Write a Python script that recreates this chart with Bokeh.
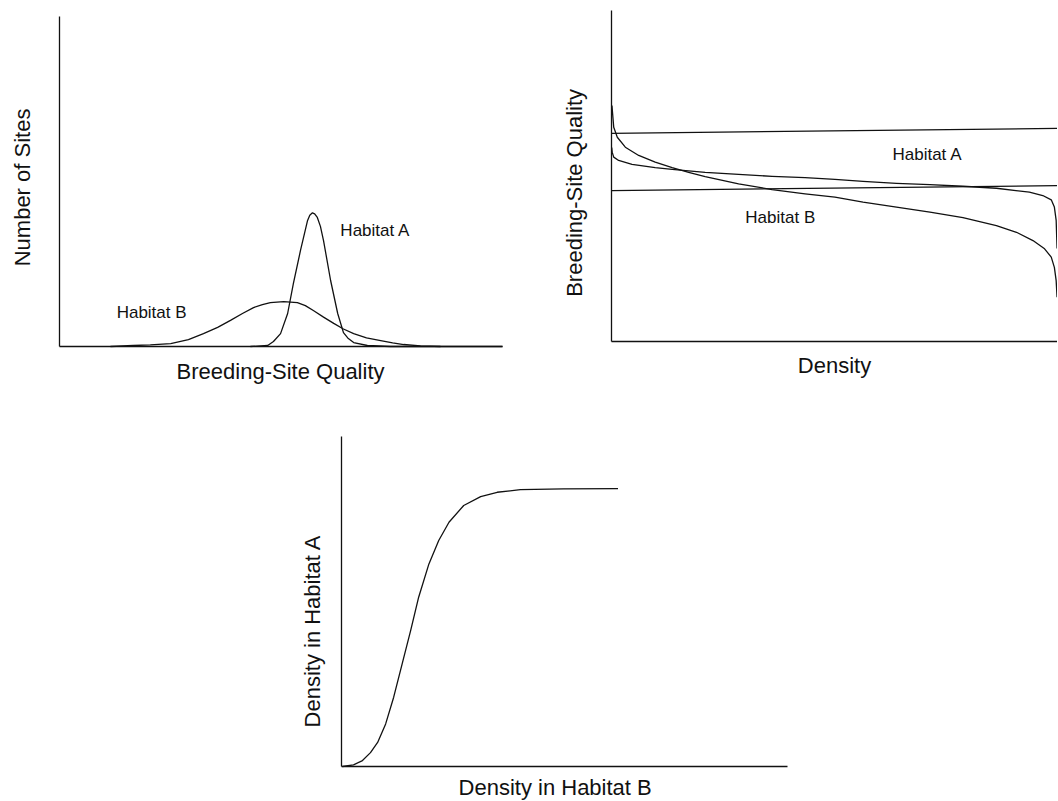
import math
from bokeh.plotting import figure
from bokeh.layouts import column, row
from bokeh.models import Range1d, Label, FixedTicker, Spacer
from bokeh.embed import file_html
from bokeh.resources import INLINE

# ---------------- data ----------------
# Panel 1: number of sites vs breeding-site quality (arbitrary 0-100 units)
hab_a_quality = [43.1, 47.0, 48.3, 49.9, 51.5, 52.8, 54.4, 56.0, 56.5, 57.1, 57.6, 58.2, 58.9,
                 59.6, 61.2, 62.8, 64.1, 65.2, 66.4, 69.5, 74.7, 100.0]
hab_a_sites = [0.0, 0.3, 1.5, 3.9, 10.0, 19.1, 29.1, 38.2, 39.8, 40.5, 40.2, 39.1, 36.4,
               32.1, 20.0, 10.0, 4.2, 2.4, 1.2, 0.3, 0.0, 0.0]
hab_b_quality = [11.5, 16.7, 20.5, 25.1, 29.1, 32.5, 35.7, 38.6, 41.3, 43.8, 45.8, 47.6, 50.6,
                 53.7, 55.5, 57.3, 59.6, 61.9, 64.1, 66.4, 69.3, 72.5, 75.2, 77.7, 81.5, 86.0]
hab_b_sites = [0.0, 0.3, 0.5, 0.9, 2.1, 3.9, 5.8, 7.9, 10.0, 11.8, 12.7, 13.3, 13.6,
               13.3, 12.4, 10.9, 8.9, 7.0, 5.3, 3.9, 2.6, 1.8, 1.1, 0.6, 0.2, 0.0]

# Panel 2: breeding-site quality vs density
upper_line_x = [0.0, 100.0]
upper_line_q = [62.9, 64.4]
lower_line_x = [0.0, 100.0]
lower_line_q = [45.6, 47.1]
curve1_density = [0.1, 0.5, 1.3, 3.1, 6.1, 9.8, 13.6, 17.3, 21.0, 28.5, 36.0, 43.4, 50.1,
                  56.4, 63.9, 71.4, 78.8, 86.3, 90.8, 94.5, 97.1, 98.6, 99.3, 99.7, 99.9]
curve1_quality = [71.3, 64.7, 61.7, 58.7, 56.2, 54.2, 52.5, 51.1, 49.8, 47.6, 45.9, 44.6, 43.6,
                  42.1, 40.6, 39.1, 37.4, 35.0, 33.0, 30.5, 28.0, 25.5, 22.4, 18.4, 13.4]
curve2_density = [0.05, 0.15, 0.5, 1.6, 4.6, 9.8, 13.6, 21.0, 28.5, 36.0, 43.4, 50.1, 56.4,
                  63.9, 71.4, 78.8, 86.3, 93.7, 96.7, 98.6, 99.3, 99.7, 99.9]
curve2_quality = [58.6, 57.2, 55.7, 54.7, 53.5, 52.5, 52.0, 51.1, 50.5, 49.9, 49.5, 49.0, 48.4,
                  47.8, 47.4, 46.9, 46.3, 45.1, 44.1, 42.8, 40.6, 36.6, 28.1]

# Panel 3: density in habitat A vs density in habitat B
dens_b = [0.2, 2.7, 4.7, 6.5, 8.1, 9.9, 11.7, 13.6, 15.5, 17.3, 19.6, 21.8, 24.1, 27.4,
          31.2, 34.9, 40.1, 49.8, 62.0]
dens_a = [0.0, 0.5, 1.8, 4.2, 7.3, 12.9, 21.0, 31.1, 41.2, 51.3, 61.4, 68.5, 74.0, 79.1,
          81.8, 83.1, 83.9, 84.1, 84.2]

FONT = "Liberation Sans"
INK = "#111111"
LW = 1.3


def make_fig(width, height, x0, x100, y0, y100):
    """Figure whose frame fills the canvas; data 0..100 lands on the given pixels."""
    sx = (x100 - x0) / 100.0
    sy = (y0 - y100) / 100.0
    xr = Range1d(-x0 / sx, (width - x0) / sx)
    yr = Range1d(-(height - y0) / sy, y0 / sy)
    p = figure(width=width, height=height, x_range=xr, y_range=yr,
               toolbar_location=None, output_backend="svg",
               min_border_left=0, min_border_right=0, min_border_top=0, min_border_bottom=0)
    p.outline_line_color = None
    p.grid.visible = False
    p.background_fill_color = "white"
    p.border_fill_color = "white"
    for ax in (p.xaxis, p.yaxis):
        ax.ticker = FixedTicker(ticks=[])
        ax.major_tick_out = 0
        ax.major_tick_in = 0
        ax.minor_tick_out = 0
        ax.minor_tick_in = 0
        ax.major_label_standoff = 0
        ax.axis_label_standoff = 0
        ax.major_tick_line_color = None
        ax.minor_tick_line_color = None
        ax.major_label_text_font_size = "0px"
        ax.axis_line_color = INK
        ax.axis_line_width = LW
        ax.fixed_location = 0
        ax.bounds = (0, 100)
    return p


def add_label(p, x, y, text, size, rotate=False, align="left", baseline="alphabetic"):
    p.add_layout(Label(x=x, y=y, text=text, text_font=FONT, text_font_size=size,
                       text_color=INK, angle=(math.pi / 2 if rotate else 0),
                       text_align=align, text_baseline=baseline))


# ---------------- panel 1 ----------------
p1 = make_fig(528, 400, 59, 502, 346, 16)
p1.line(hab_a_quality, hab_a_sites, line_color=INK, line_width=LW, line_join="round")
p1.line(hab_b_quality, hab_b_sites, line_color=INK, line_width=LW, line_join="round")
add_label(p1, 63.4, 35.1, "Habitat A", "17px")
add_label(p1, 12.9, 10.3, "Habitat B", "17px")
add_label(p1, 49.9, -7.6, "Breeding-Site Quality", "22px", align="center")
add_label(p1, -8.35, 48.2, "Number of Sites", "22px", rotate=True, align="center", baseline="middle")

# ---------------- panel 2 ----------------
p2 = make_fig(529, 400, 83, 529, 341, 10)
p2.line(upper_line_x, upper_line_q, line_color=INK, line_width=LW)
p2.line(lower_line_x, lower_line_q, line_color=INK, line_width=LW)
p2.line(curve1_density, curve1_quality, line_color=INK, line_width=LW, line_join="round")
p2.line(curve2_density, curve2_quality, line_color=INK, line_width=LW, line_join="round")
add_label(p2, 63.0, 56.5, "Habitat A", "17px")
add_label(p2, 30.0, 37.4, "Habitat B", "17px")
add_label(p2, 50.0, -7.3, "Density", "22px", align="center")
add_label(p2, -8.4, 44.9, "Breeding-Site Quality", "22px", rotate=True, align="center", baseline="middle")

# ---------------- panel 3 ----------------
p3 = make_fig(560, 400, 91, 537, 366, 36)
p3.line(dens_b, dens_a, line_color=INK, line_width=LW, line_join="round")
add_label(p3, 47.9, -6.4, "Density in Habitat B", "22px", align="center")
add_label(p3, -6.4, 41.1, "Density in Habitat A", "22px", rotate=True, align="center", baseline="middle")

layout = column(row(p1, p2), row(Spacer(width=250, height=400), p3))

open("out.html", "w").write(file_html(layout, INLINE))
